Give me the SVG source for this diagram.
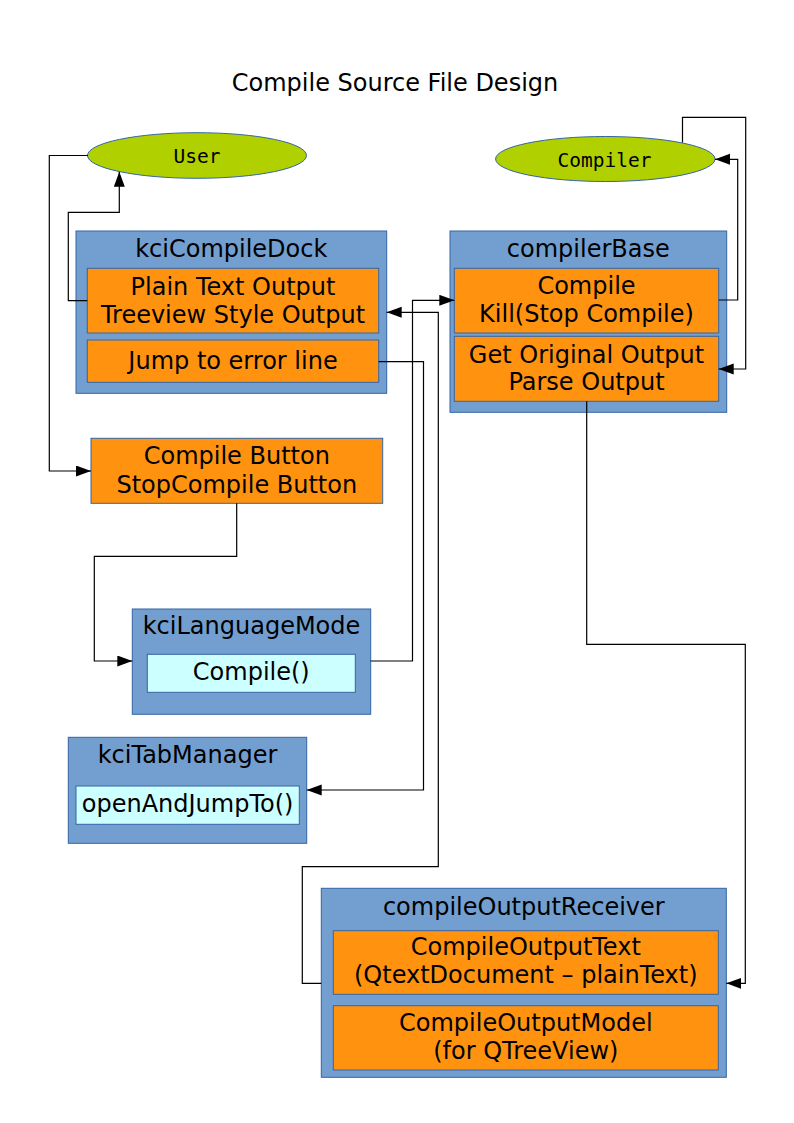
<svg xmlns="http://www.w3.org/2000/svg" width="794" height="1123" viewBox="0 0 794 1123">
<style>
text{font-family:"DejaVu Sans","Liberation Sans",sans-serif;font-size:24px;fill:#000;text-anchor:middle}
.mono{font-family:"DejaVu Sans Mono","Liberation Mono",monospace;font-size:19.5px}
.outer{fill:#729fcf;stroke:#3465a4;stroke-width:1}
.orange{fill:#ff930f;stroke:#3465a4;stroke-width:1}
.cyan{fill:#ccffff;stroke:#3465a4;stroke-width:1}
.ell{fill:#b0d000;stroke:#3465a4;stroke-width:1}
.conn path{fill:none;stroke:#000;stroke-width:1.2;marker-end:url(#arr)}
</style>
<defs>
<marker id="arr" markerUnits="userSpaceOnUse" markerWidth="16" markerHeight="12" refX="15" refY="5.5" orient="auto">
<path d="M0,0 L15,5.5 L0,11 Z" fill="#000"/>
</marker>
</defs>
<rect width="794" height="1123" fill="#fff"/>
<text x="395" y="90.7">Compile Source File Design</text>

<g id="user">
<ellipse class="ell" cx="197" cy="155.5" rx="109.5" ry="22.8"/>
<text class="mono" x="197" y="162.5">User</text>
</g>
<g id="compiler">
<ellipse class="ell" cx="605.3" cy="159" rx="109.7" ry="22.5"/>
<text class="mono" x="604.5" y="166.5">Compiler</text>
</g>

<g id="kciCompileDock">
<rect class="outer" x="76" y="231" width="310.7" height="162.3"/>
<text x="231.3" y="256.7">kciCompileDock</text>
<rect class="orange" x="87.3" y="268.3" width="291.4" height="64.7"/>
<text x="233" y="295">Plain Text Output</text>
<text x="233" y="322.7">Treeview Style Output</text>
<rect class="orange" x="87.3" y="340" width="291.4" height="42.3"/>
<text x="233" y="369.3">Jump to error line</text>
</g>

<g id="compilerBase">
<rect class="outer" x="450" y="231" width="276.7" height="181.3"/>
<text x="588.3" y="256.7">compilerBase</text>
<rect class="orange" x="454.3" y="268.3" width="264.4" height="64.7"/>
<text x="586.5" y="294.3">Compile</text>
<text x="586.5" y="322.3">Kill(Stop Compile)</text>
<rect class="orange" x="454.3" y="336.3" width="264.4" height="65"/>
<text x="586.5" y="362.7">Get Original Output</text>
<text x="586.5" y="390">Parse Output</text>
</g>

<g id="compileButton">
<rect class="orange" x="91" y="438.3" width="291.7" height="65"/>
<text x="236.8" y="464.3">Compile Button</text>
<text x="236.8" y="492.7">StopCompile Button</text>
</g>

<g id="kciLanguageMode">
<rect class="outer" x="132.3" y="609" width="238.4" height="105.3"/>
<text x="251.5" y="634">kciLanguageMode</text>
<rect class="cyan" x="147.3" y="654.3" width="208" height="38"/>
<text x="251.3" y="680">Compile()</text>
</g>

<g id="kciTabManager">
<rect class="outer" x="68.3" y="737.3" width="238.4" height="106"/>
<text x="187.5" y="763.3">kciTabManager</text>
<rect class="cyan" x="76" y="786" width="223.3" height="38.3"/>
<text x="187.6" y="811.7">openAndJumpTo()</text>
</g>

<g id="compileOutputReceiver">
<rect class="outer" x="321.3" y="888.3" width="405" height="189"/>
<text x="523.8" y="915">compileOutputReceiver</text>
<rect class="orange" x="333.3" y="930.7" width="385" height="63.6"/>
<text x="525.8" y="955">CompileOutputText</text>
<text x="525.8" y="983.3">(QtextDocument – plainText)</text>
<rect class="orange" x="333.3" y="1005.7" width="385" height="64.3"/>
<text x="525.8" y="1031">CompileOutputModel</text>
<text x="525.8" y="1059.3">(for QTreeView)</text>
</g>

<g id="connectors" class="conn">
<path d="M88,155.5 H49.3 V471 H91"/>
<path d="M87.3,300.7 H68.3 V212.3 H119.3 V171.7"/>
<path d="M718.7,300 H737.7 V159.3 H715"/>
<path d="M682.5,142.5 V117.3 H745.7 V369 H718.7"/>
<path d="M586.7,401.3 V644.3 H745.3 V983.3 H726.3"/>
<path d="M370.7,661 H412.5 V300.3 H454.3"/>
<path d="M378.7,361.7 H423.5 V790 H306.7"/>
<path d="M321.3,983.3 H302.3 V866.7 H438.3 V312.3 H386.7"/>
<path d="M236.7,503.3 V556.3 H94.3 V661 H132.3"/>
</g>
</svg>
